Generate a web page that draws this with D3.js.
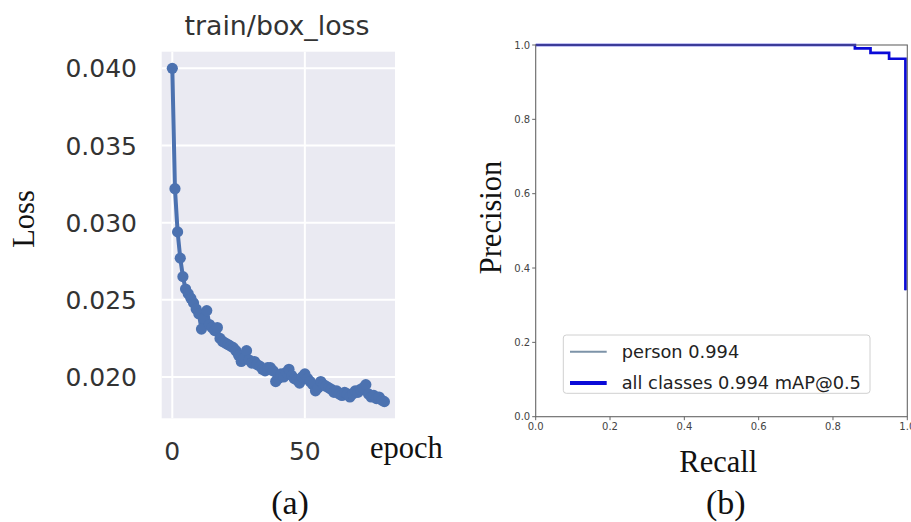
<!DOCTYPE html>
<html>
<head>
<meta charset="utf-8">
<script src="https://cdn.jsdelivr.net/npm/d3@7"></script>
<style>
  html, body { margin: 0; padding: 0; background: #ffffff; }
  svg { display: block; }
</style>
</head>
<body>
<script>
// ---------- Data ----------
const epochs = d3.range(0, 81);
const boxLoss = [
  0.0400, 0.0322, 0.0294, 0.0277, 0.0265, 0.0257, 0.0254, 0.0251, 0.0248, 0.0244,
  0.0241, 0.0231, 0.0238, 0.0243, 0.0234, 0.0232, 0.0230, 0.0232, 0.0225, 0.0223,
  0.0222, 0.0221, 0.0220, 0.0219, 0.0217, 0.0214, 0.0210, 0.0212, 0.0217, 0.0211,
  0.0209, 0.0210, 0.0208, 0.0207, 0.0205, 0.0204, 0.0206, 0.0206, 0.0204, 0.0197,
  0.0199, 0.0202, 0.0200, 0.0203, 0.0205, 0.0201, 0.0199, 0.0198, 0.0196, 0.0200,
  0.0202, 0.0199, 0.0197, 0.0195, 0.0191, 0.0193, 0.0197, 0.0195, 0.0194, 0.0193,
  0.0192, 0.0190, 0.0191, 0.0189, 0.0188, 0.0190, 0.0189, 0.0187, 0.0189, 0.0191,
  0.0190, 0.0192, 0.0193, 0.0195, 0.0189, 0.0187, 0.0188, 0.0186, 0.0187, 0.0185,
  0.0184
];
const lossYTicks = [0.020, 0.025, 0.030, 0.035, 0.040];
const lossXTicks = [0, 50];

const recallSteps = [0, 0.859, 0.901, 0.951, 0.995];
const precisionSteps = [1.0, 0.991, 0.979, 0.963, 0.34];
const prTicks = [0, 0.2, 0.4, 0.6, 0.8, 1.0];
const legendLabels = ["person 0.994", "all classes 0.994 mAP@0.5"];

// ---------- SVG ----------
const W = 911, H = 522;
const svg = d3.select("body").append("svg").attr("width", W).attr("height", H);
svg.append("rect").attr("width", W).attr("height", H).attr("fill", "#ffffff");

const sans = "'DejaVu Sans', sans-serif";
const serif = "'Liberation Serif', 'Times New Roman', serif";

// ---------- Left panel: train/box_loss ----------
const L = { x0: 161.7, x1: 395, y0: 51.7, y1: 418.3 };
const [lmin, lmax] = d3.extent(boxLoss);
const lpad = (lmax - lmin) * 0.05;
const [emin, emax] = d3.extent(epochs);
const epad = (emax - emin) * 0.05;

const xL = d3.scaleLinear().domain([emin - epad, emax + epad]).range([L.x0, L.x1]);
const yL = d3.scaleLinear().domain([lmin - lpad, lmax + lpad]).range([L.y1, L.y0]);

const gL = svg.append("g");
gL.append("rect")
  .attr("x", L.x0).attr("y", L.y0)
  .attr("width", L.x1 - L.x0).attr("height", L.y1 - L.y0)
  .attr("fill", "#eaeaf2");

gL.selectAll("line.gy").data(lossYTicks).join("line")
  .attr("x1", L.x0).attr("x2", L.x1)
  .attr("y1", d => yL(d)).attr("y2", d => yL(d))
  .attr("stroke", "#ffffff").attr("stroke-width", 2);
gL.selectAll("line.gx").data(lossXTicks).join("line")
  .attr("y1", L.y0).attr("y2", L.y1)
  .attr("x1", d => xL(d)).attr("x2", d => xL(d))
  .attr("stroke", "#ffffff").attr("stroke-width", 2);

const lossPts = epochs.map((e, i) => [e, boxLoss[i]]);
gL.append("path")
  .datum(lossPts)
  .attr("d", d3.line().x(d => xL(d[0])).y(d => yL(d[1])))
  .attr("fill", "none").attr("stroke", "#4c72b0").attr("stroke-width", 4)
  .attr("stroke-linejoin", "round");
gL.selectAll("circle").data(lossPts).join("circle")
  .attr("cx", d => xL(d[0])).attr("cy", d => yL(d[1]))
  .attr("r", 5.6).attr("fill", "#4c72b0");

gL.selectAll("text.yt").data(lossYTicks).join("text")
  .attr("x", 137).attr("y", d => yL(d)).attr("dy", "0.36em")
  .attr("text-anchor", "end")
  .attr("font-family", sans).attr("font-size", 25).attr("fill", "#333333")
  .text(d => d3.format(".3f")(d));
gL.selectAll("text.xt").data(lossXTicks).join("text")
  .attr("x", d => xL(d)).attr("y", 451).attr("dy", "0.36em")
  .attr("text-anchor", "middle")
  .attr("font-family", sans).attr("font-size", 25).attr("fill", "#333333")
  .text(d => d);

gL.append("text").attr("x", 277).attr("y", 35).attr("text-anchor", "middle")
  .attr("font-family", sans).attr("font-size", 26.8).attr("fill", "#333333")
  .text("train/box_loss");

svg.append("text").attr("transform", "translate(33.5,219) rotate(-90)")
  .attr("text-anchor", "middle").attr("font-family", serif).attr("font-size", 30.5)
  .attr("fill", "#111").text("Loss");
svg.append("text").attr("x", 370).attr("y", 458.3)
  .attr("font-family", serif).attr("font-size", 30.5).attr("fill", "#111").text("epoch");
svg.append("text").attr("x", 290).attr("y", 514).attr("text-anchor", "middle")
  .attr("font-family", serif).attr("font-size", 34).attr("fill", "#111").text("(a)");

// ---------- Right panel: PR curve ----------
const R = { x0: 535.7, x1: 907.3, y0: 45, y1: 416.7 };
const xR = d3.scaleLinear().domain([0, 1]).range([R.x0, R.x1]);
const yR = d3.scaleLinear().domain([0, 1]).range([R.y1, R.y0]);
const gR = svg.append("g");

const prPts = recallSteps.map((r, i) => [r, precisionSteps[i]]);
const prLine = d3.line().curve(d3.curveStepAfter).x(d => xR(d[0])).y(d => yR(d[1]));
gR.append("path").datum(prPts).attr("d", prLine)
  .attr("fill", "none").attr("stroke", "#7d93a8").attr("stroke-width", 1);
gR.append("path").datum(prPts).attr("d", prLine)
  .attr("fill", "none").attr("stroke", "#0a0ad8").attr("stroke-width", 2.7);

gR.append("rect")
  .attr("x", R.x0).attr("y", R.y0)
  .attr("width", R.x1 - R.x0).attr("height", R.y1 - R.y0)
  .attr("fill", "none").attr("stroke", "#666666").attr("stroke-width", 1.1);

// y axis ticks
gR.selectAll("line.ytk").data(prTicks).join("line")
  .attr("x1", R.x0 - 3.5).attr("x2", R.x0)
  .attr("y1", d => yR(d)).attr("y2", d => yR(d))
  .attr("stroke", "#666666").attr("stroke-width", 1);
gR.selectAll("text.ytl").data(prTicks).join("text")
  .attr("x", R.x0 - 5.5).attr("y", d => yR(d)).attr("dy", "0.36em")
  .attr("text-anchor", "end").attr("font-family", sans).attr("font-size", 10)
  .attr("fill", "#444444").text(d => d3.format(".1f")(d));
// x axis ticks (the last label is clipped by the picture edge, as in the reference)
gR.selectAll("line.xtk").data(prTicks).join("line")
  .attr("x1", d => xR(d)).attr("x2", d => xR(d))
  .attr("y1", R.y1).attr("y2", R.y1 + 3.5)
  .attr("stroke", "#666666").attr("stroke-width", 1);
gR.selectAll("text.xtl").data(prTicks).join("text")
  .attr("x", d => xR(d)).attr("y", 426.7).attr("dy", "0.36em")
  .attr("text-anchor", "middle").attr("font-family", sans).attr("font-size", 10)
  .attr("fill", "#444444").text(d => d3.format(".1f")(d));

// legend
const lg = gR.append("g");
lg.append("rect").attr("x", 563.3).attr("y", 335).attr("width", 306.7).attr("height", 58.3)
  .attr("rx", 3).attr("fill", "#ffffff").attr("stroke", "#d0d0d0").attr("stroke-width", 1);
const legendStyles = [{ c: "#7d93a8", w: 2, y: 351.7 }, { c: "#0a0ad8", w: 4, y: 383 }];
lg.selectAll("line.lg").data(legendLabels).join("line")
  .attr("x1", 570).attr("x2", 606.7)
  .attr("y1", (d, i) => legendStyles[i].y).attr("y2", (d, i) => legendStyles[i].y)
  .attr("stroke", (d, i) => legendStyles[i].c).attr("stroke-width", (d, i) => legendStyles[i].w);
lg.selectAll("text.lg").data(legendLabels).join("text")
  .attr("x", 621.7).attr("y", (d, i) => legendStyles[i].y).attr("dy", "0.36em")
  .attr("font-family", sans).attr("font-size", 17.8).attr("fill", "#222222")
  .text(d => d);

svg.append("text").attr("x", 718.3).attr("y", 471.7).attr("text-anchor", "middle")
  .attr("font-family", serif).attr("font-size", 30.5).attr("fill", "#111").text("Recall");
svg.append("text").attr("transform", "translate(501,217.5) rotate(-90)")
  .attr("text-anchor", "middle").attr("font-family", serif).attr("font-size", 30.5)
  .attr("fill", "#111").text("Precision");
svg.append("text").attr("x", 725.8).attr("y", 514).attr("text-anchor", "middle")
  .attr("font-family", serif).attr("font-size", 34).attr("fill", "#111").text("(b)");
</script>
</body>
</html>
